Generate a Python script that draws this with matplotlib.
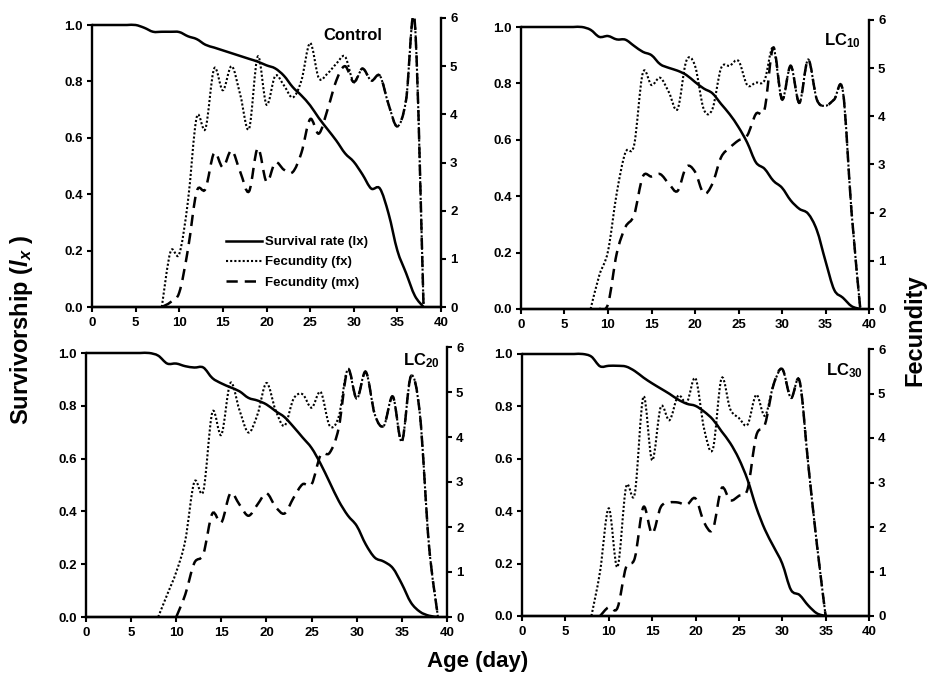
import numpy as np
import matplotlib
matplotlib.use("Agg")
import matplotlib.pyplot as plt
from matplotlib.path import Path
from matplotlib.patches import PathPatch
from matplotlib.lines import Line2D

plt.rcParams['font.family'] = ['Liberation Sans', 'DejaVu Sans']
plt.rcParams['font.weight'] = 'bold'
plt.rcParams['mathtext.fontset'] = 'custom'
plt.rcParams['mathtext.rm'] = 'Liberation Sans:bold'
plt.rcParams['mathtext.it'] = 'Liberation Sans:italic:bold'
plt.rcParams['mathtext.bf'] = 'Liberation Sans:bold'

# ---- data ----
panel_names = ["Control", r"LC$_{10}$", r"LC$_{20}$", r"LC$_{30}$"]

# Control
lx_days_ctrl = list(range(0, 39))
lx_ctrl = [1.0, 1.0, 1.0, 1.0, 1.0, 1.0, 0.99, 0.976, 0.976, 0.976, 0.975, 0.96, 0.95,
           0.93, 0.92, 0.91, 0.90, 0.89, 0.88, 0.87, 0.857, 0.846, 0.82, 0.78, 0.75,
           0.715, 0.67, 0.63, 0.59, 0.545, 0.515, 0.47, 0.42, 0.42, 0.33, 0.2, 0.12, 0.04, 0.0]
fx_days_ctrl = list(range(8, 39))
fx_ctrl = [0, 1.15, 1.1, 2.2, 3.94, 3.7, 4.95, 4.5, 5.0, 4.4, 3.7, 5.2, 4.2, 4.8, 4.6,
           4.35, 4.7, 5.48, 4.75, 4.85, 5.05, 5.2, 4.67, 4.95, 4.7, 4.8, 4.2, 3.75, 4.3, 5.9, 0]
mx_days_ctrl = list(range(8, 39))
mx_ctrl = [0, 0.1, 0.3, 1.2, 2.4, 2.45, 3.2, 2.9, 3.25, 2.8, 2.4, 3.3, 2.6, 3.0, 2.85,
           2.8, 3.2, 3.9, 3.6, 4.1, 4.7, 5.0, 4.67, 4.95, 4.7, 4.8, 4.2, 3.75, 4.3, 5.9, 0]

# LC10
lx_days_lc10 = list(range(0, 40))
lx_lc10 = [1, 1, 1, 1, 1, 1, 1, 1, 0.99, 0.965, 0.968, 0.956, 0.955, 0.933, 0.912, 0.9,
           0.868, 0.855, 0.845, 0.83, 0.805, 0.782, 0.765, 0.727, 0.69, 0.645, 0.59, 0.52,
           0.497, 0.455, 0.43, 0.385, 0.355, 0.338, 0.28, 0.17, 0.068, 0.04, 0.01, 0]
fx_days_lc10 = list(range(8, 40))
fx_lc10 = [0, 0.7, 1.2, 2.4, 3.25, 3.4, 4.9, 4.65, 4.8, 4.5, 4.15, 5.15, 5.05, 4.15, 4.15,
           5.0, 5.05, 5.15, 4.65, 4.7, 4.75, 5.43, 4.35, 5.05, 4.28, 5.18, 4.35, 4.22, 4.35,
           4.52, 2.0, 0]
mx_days_lc10 = list(range(9, 40))
mx_lc10 = [0, 0.1, 1.15, 1.7, 1.95, 2.75, 2.75, 2.8, 2.6, 2.45, 2.95, 2.85, 2.4, 2.6, 3.15,
           3.35, 3.5, 3.6, 4.05, 4.15, 5.43, 4.35, 5.05, 4.28, 5.18, 4.35, 4.22, 4.35, 4.52,
           2.0, 0]

# LC20
lx_days_lc20 = list(range(0, 40))
lx_lc20 = [1, 1, 1, 1, 1, 1, 1, 1, 0.99, 0.96, 0.96, 0.95, 0.945, 0.945, 0.905, 0.885,
           0.87, 0.855, 0.83, 0.82, 0.805, 0.78, 0.757, 0.72, 0.68, 0.64, 0.58, 0.51, 0.44,
           0.385, 0.345, 0.275, 0.225, 0.21, 0.185, 0.125, 0.055, 0.02, 0.005, 0]
fx_days_lc20 = list(range(8, 40))
fx_lc20 = [0, 0.5, 1.0, 1.7, 3.0, 2.8, 4.55, 4.05, 5.2, 4.6, 4.1, 4.5, 5.2, 4.6, 4.25,
           4.85, 4.95, 4.65, 5.0, 4.25, 4.45, 5.5, 4.85, 5.45, 4.5, 4.25, 4.9, 3.9, 5.35,
           4.5, 1.6, 0]
mx_days_lc20 = list(range(10, 40))
mx_lc20 = [0, 0.5, 1.2, 1.4, 2.3, 2.1, 2.75, 2.5, 2.25, 2.5, 2.75, 2.45, 2.3, 2.65, 2.95,
           2.95, 3.6, 3.65, 4.2, 5.5, 4.85, 5.45, 4.5, 4.25, 4.9, 3.9, 5.35, 4.5, 1.6, 0]

# LC30
lx_days_lc30 = list(range(0, 36))
lx_lc30 = [1, 1, 1, 1, 1, 1, 1, 1, 0.99, 0.953, 0.955, 0.955, 0.952, 0.935, 0.91, 0.888,
           0.868, 0.848, 0.826, 0.81, 0.802, 0.78, 0.75, 0.705, 0.66, 0.6, 0.52, 0.415,
           0.33, 0.265, 0.2, 0.1, 0.08, 0.04, 0.01, 0]
fx_days_lc30 = list(range(8, 36))
fx_lc30 = [0, 1.0, 2.42, 1.1, 2.9, 2.75, 4.93, 3.5, 4.7, 4.4, 4.95, 4.8, 5.34, 4.2, 3.75,
           5.34, 4.65, 4.45, 4.3, 4.97, 4.5, 5.2, 5.55, 4.9, 5.28, 3.4, 1.6, 0]
mx_days_lc30 = list(range(9, 36))
mx_lc30 = [0, 0.2, 0.18, 1.1, 1.3, 2.45, 1.85, 2.45, 2.55, 2.55, 2.5, 2.64, 2.1, 1.95,
           2.87, 2.6, 2.7, 2.85, 4.05, 4.3, 5.2, 5.55, 4.9, 5.28, 3.4, 1.6, 0]

panels = [
    (lx_days_ctrl, lx_ctrl, fx_days_ctrl, fx_ctrl, mx_days_ctrl, mx_ctrl),
    (lx_days_lc10, lx_lc10, fx_days_lc10, fx_lc10, mx_days_lc10, mx_lc10),
    (lx_days_lc20, lx_lc20, fx_days_lc20, fx_lc20, mx_days_lc20, mx_lc20),
    (lx_days_lc30, lx_lc30, fx_days_lc30, fx_lc30, mx_days_lc30, mx_lc30),
]

# ---- layout, in pixels: left, right, y of zero, y of top (right axis), y of lx=1 ----
W, H = 929, 676
boxes = [(92, 441, 307, 18, 25),
         (521, 869, 309, 20, 27),
         (86, 447, 617, 347, 353),
         (522, 869, 616, 349, 354)]
title_pos = [(0.748, 0.94), (0.925, 0.93), (0.928, 0.95), (0.928, 0.92)]


def smooth(ax, x, y, **kw):
    """Excel-like smoothed line drawn as a cubic bezier path through the points."""
    pts = np.column_stack([x, y]).astype(float)
    n = len(pts)
    verts = [pts[0]]
    codes = [Path.MOVETO]
    for i in range(n - 1):
        p0 = pts[max(i - 1, 0)]
        p1 = pts[i]
        p2 = pts[i + 1]
        p3 = pts[min(i + 2, n - 1)]
        verts += [p1 + (p2 - p0) / 6.0, p2 - (p3 - p1) / 6.0, p2]
        codes += [Path.CURVE4] * 3
    ax.add_patch(PathPatch(Path(verts, codes), fill=False, **kw))


fig = plt.figure(figsize=(W / 100, H / 100), dpi=100)

solid_kw = dict(color='black', lw=1.8, linestyle='-')
dot_kw = dict(color='black', lw=1.5, linestyle=(0, (1, 1.0)))
dash_kw = dict(color='black', lw=1.8, linestyle=(0, (4.5, 2.8)))

for i, (box, data) in enumerate(zip(boxes, panels)):
    l, r, y0, ytop, y1 = box
    ax = fig.add_axes([l / W, 1 - y0 / H, (r - l) / W, (y0 - ytop) / H])
    top_lx = (y0 - ytop) / (y0 - y1)
    ax.set_xlim(0, 40)
    ax.set_ylim(0, top_lx)
    ax2 = ax.twinx()
    ax2.set_ylim(0, 6)

    lxd, lx, fxd, fx, mxd, mx = data
    smooth(ax, lxd, lx, **solid_kw)
    smooth(ax2, mxd, mx, **dash_kw)
    smooth(ax2, fxd, fx, **dot_kw)

    for a in (ax, ax2):
        a.spines['top'].set_visible(False)
        for s in a.spines.values():
            s.set_linewidth(1.7)
    ax.spines['right'].set_visible(False)
    ax2.spines['left'].set_visible(False)
    ax.spines['left'].set_bounds(0, 1)

    ax.set_xticks(range(0, 41, 5))
    ax.set_yticks(np.arange(0, 1.01, 0.2))
    ax.set_yticklabels(["%.1f" % v for v in np.arange(0, 1.01, 0.2)])
    ax2.set_yticks(range(0, 7))
    for a in (ax, ax2):
        a.tick_params(direction='out', length=3.5, width=1.5, labelsize=9.5, pad=3)
    ax.tick_params(axis='x', pad=4)

    ax.text(title_pos[i][0], title_pos[i][1], panel_names[i], transform=ax.transAxes,
            ha='center', va='center', fontsize=12, fontweight='bold')

    if i == 0:
        handles = [Line2D([], [], **solid_kw), Line2D([], [], **dot_kw),
                   Line2D([], [], **dash_kw)]
        labels = ["Survival rate (lx)", "Fecundity (fx)", "Fecundity (mx)"]
        ax.legend(handles, labels, loc='upper left', bbox_to_anchor=(226 / W, 1 - 236 / H),
                  bbox_transform=fig.transFigure, frameon=False, fontsize=9.5,
                  handlelength=2.7, handletextpad=0.25, labelspacing=0.6,
                  borderpad=0, borderaxespad=0)

fig.text(22 / W, 1 - 330 / H, r"Survivorship ($\mathit{l}_{x}$ )", rotation=90,
         ha='center', va='center', fontsize=17, fontweight='bold')
fig.text(915 / W, 1 - 330 / H, "Fecundity", rotation=90,
         ha='center', va='center', fontsize=17, fontweight='bold')
fig.text(478 / W, 1 - 661 / H, "Age (day)", ha='center', va='center',
         fontsize=16, fontweight='bold')

fig.savefig("out.png", dpi=100)
